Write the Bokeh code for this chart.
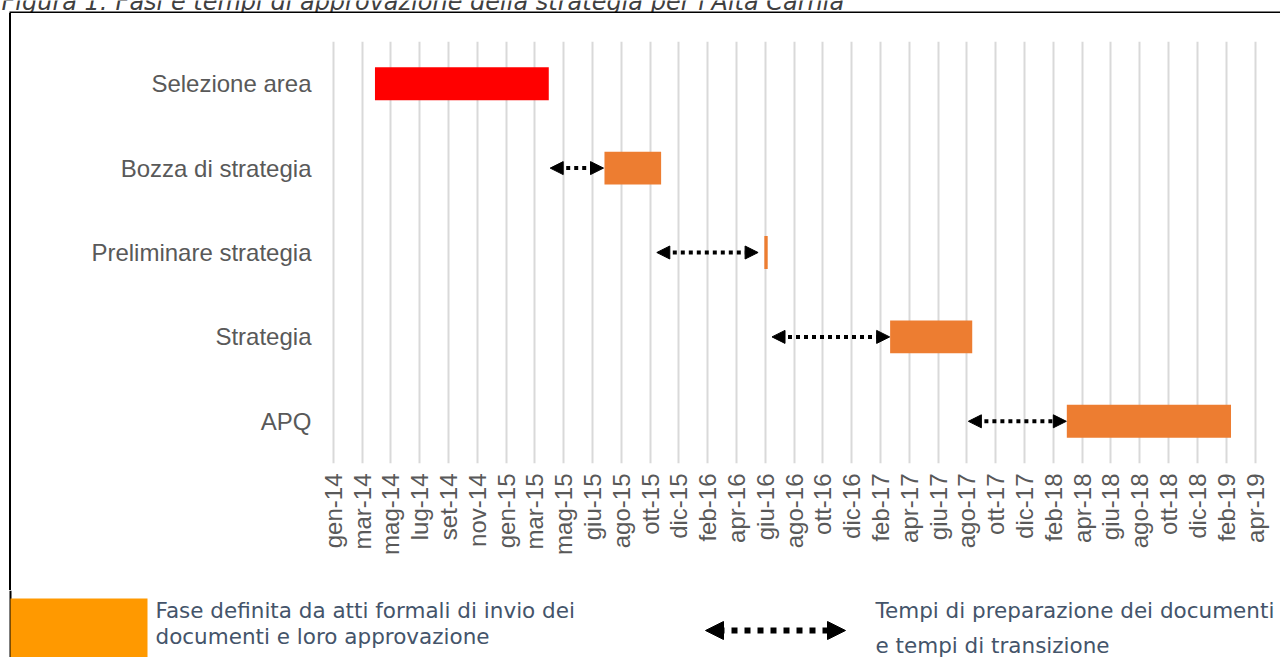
import math
import pandas as pd
from bokeh.plotting import figure
from bokeh.layouts import column, row
from bokeh.models import Range1d, FixedTicker, ColumnDataSource, Arrow, NormalHead, Div
from bokeh.core.properties import value
from bokeh.embed import file_html
from bokeh.resources import INLINE

# ---------------- data ----------------
phases = ["Selezione area", "Bozza di strategia", "Preliminare strategia",
          "Strategia", "APQ"]
phase_start = ["2014-04-03", "2015-07-25", "2016-06-22", "2017-03-11", "2018-03-14"]
phase_end = ["2015-03-31", "2015-11-20", "2016-06-29", "2017-08-29", "2019-02-19"]
phase_colors = ["#FF0000", "#ED7D31", "#ED7D31", "#ED7D31", "#ED7D31"]

transition_phase = ["Bozza di strategia", "Preliminare strategia", "Strategia", "APQ"]
transition_start = ["2015-04-03", "2015-11-11", "2016-07-08", "2017-08-21"]
transition_end = ["2015-07-23", "2016-06-09", "2017-03-10", "2018-03-13"]

tick_labels = ["gen-14", "mar-14", "mag-14", "lug-14", "set-14", "nov-14",
               "gen-15", "mar-15", "mag-15", "giu-15", "ago-15", "ott-15",
               "dic-15", "feb-16", "apr-16", "giu-16", "ago-16", "ott-16",
               "dic-16", "feb-17", "apr-17", "giu-17", "ago-17", "ott-17",
               "dic-17", "feb-18", "apr-18", "giu-18", "ago-18", "ott-18",
               "dic-18", "feb-19", "apr-19"]
tick_first = "2014-01-06"
tick_step_days = 60

title_text = "Figura 1: Fasi e tempi di approvazione della strategia per l'Alta Carnia"
legend_phase_lines = ["Fase definita da atti formali di invio dei",
                      "documenti e loro approvazione"]
legend_transition_lines = ["Tempi di preparazione dei documenti",
                           "e tempi di transizione"]

phase_legend_color = "#FF9900"
text_color_doc = "#44546A"


def ms(dates):
    return [pd.Timestamp(d).value / 1e6 for d in dates]


# ---------------- layout (page pixels) ----------------
W, H = 1280, 657
TOP_H = 13            # title strip (border top at 11-13)
LEG_Y = 590           # legend strip starts here
LEFT_W = 12           # left border strip
FL, FR, FT, FB = 320, 1272, 41, 463   # chart frame edges (page coords)


def strip(width, height, y_top):
    """A figure whose frame covers the whole canvas, in page-pixel data units."""
    f = figure(width=width, height=height, output_backend="svg", toolbar_location=None,
               x_range=Range1d(0, width), y_range=Range1d(y_top + height, y_top),
               min_border=0, min_border_left=0, min_border_right=0,
               min_border_top=0, min_border_bottom=0)
    f.axis.visible = False
    f.grid.visible = False
    f.outline_line_color = None
    f.background_fill_color = "white"
    f.border_fill_color = "white"
    return f


# title strip (only the lower part of the caption is visible, as in the reference)
top = strip(W, TOP_H, 0)
top.text(x=[1], y=[1], text=[title_text], text_font=value("DejaVu Sans"),
         text_font_style="italic", text_font_size="24px", text_color="#404040",
         text_baseline="alphabetic", text_align="left")
top.quad(left=[9], right=[W], top=[11], bottom=[13], fill_color="black", line_color=None)

# left border line next to the chart
CW, CH = W - LEFT_W, LEG_Y - TOP_H
lborder = Div(text="", width=2, height=CH, margin=(0, 1, 0, 9),
              styles={"background-color": "black"})

# ---------------- chart ----------------
tick_ms = [pd.Timestamp(tick_first).value / 1e6 + i * tick_step_days * 86400000.0
           for i in range(len(tick_labels))]
x0 = pd.Timestamp("2013-12-10 13:00").value / 1e6
x1 = pd.Timestamp("2019-05-16 10:00").value / 1e6

n = len(phases)
p = figure(width=CW, height=CH, output_backend="svg", toolbar_location=None,
           x_axis_type="datetime",
           x_range=Range1d(x0, x1), y_range=Range1d(-0.5, n - 0.5),
           min_border_left=FL - LEFT_W, min_border_right=W - FR,
           min_border_top=FT - TOP_H, min_border_bottom=LEG_Y - FB)
p.outline_line_color = None
p.background_fill_color = "white"
p.border_fill_color = "white"

p.xgrid.ticker = FixedTicker(ticks=tick_ms)
p.xgrid.grid_line_color = "#D9D9D9"
p.xgrid.grid_line_width = 2
p.ygrid.grid_line_color = None

p.xaxis.ticker = FixedTicker(ticks=tick_ms)
p.xaxis.major_label_overrides = {t: lab for t, lab in zip(tick_ms, tick_labels)}
p.xaxis.major_label_orientation = math.pi / 2
p.xaxis.axis_line_color = None
p.xaxis.major_tick_line_color = None
p.xaxis.minor_tick_line_color = None
p.xaxis.major_tick_out = 0
p.xaxis.major_label_standoff = 10
p.xaxis.major_label_text_font = "Liberation Sans"
p.xaxis.major_label_text_font_size = "24px"
p.xaxis.major_label_text_color = "#595959"

y_pos = [n - 1 - i for i in range(n)]
p.yaxis.ticker = FixedTicker(ticks=y_pos)
p.yaxis.major_label_overrides = {y: lab for y, lab in zip(y_pos, phases)}
p.yaxis.axis_line_color = None
p.yaxis.major_tick_line_color = None
p.yaxis.minor_tick_line_color = None
p.yaxis.major_tick_out = 0
p.yaxis.major_label_standoff = 9
p.yaxis.major_label_text_font = "Liberation Sans"
p.yaxis.major_label_text_font_size = "24px"
p.yaxis.major_label_text_color = "#595959"

bar_src = ColumnDataSource(dict(y=y_pos, left=ms(phase_start), right=ms(phase_end),
                                color=phase_colors))
p.hbar(y="y", left="left", right="right", height=0.39, fill_color="color",
       line_color=None, source=bar_src)

tr_y = [y_pos[phases.index(ph)] for ph in transition_phase]
tr_src = ColumnDataSource(dict(x0=ms(transition_start), x1=ms(transition_end), y=tr_y))
p.add_layout(Arrow(x_start="x0", y_start="y", x_end="x1", y_end="y", source=tr_src,
                   line_color="black", line_width=4, line_dash="4 4",
                   start=NormalHead(size=13, fill_color="black", line_color="black", line_width=1),
                   end=NormalHead(size=13, fill_color="black", line_color="black", line_width=1)))

# ---------------- legend strip ----------------
leg = strip(W, H - LEG_Y, LEG_Y)
leg.quad(left=[9], right=[11], top=[LEG_Y], bottom=[H], fill_color="black", line_color=None)
leg.quad(left=[10], right=[147], top=[598], bottom=[H], fill_color=phase_legend_color,
         line_color=None)
leg.text(x=[155, 155], y=[610, 636], text=legend_phase_lines,
         text_font=value("DejaVu Sans"), text_font_size="21.5px", text_color=text_color_doc,
         text_baseline="middle", text_align="left")
leg.add_layout(Arrow(x_start=705, y_start=630, x_end=845, y_end=630,
                     line_color="black", line_width=6, line_dash="6 7",
                     start=NormalHead(size=18, fill_color="black", line_color="black", line_width=1),
                     end=NormalHead(size=18, fill_color="black", line_color="black", line_width=1)))
leg.text(x=[875, 875], y=[610, 645], text=legend_transition_lines,
         text_font=value("DejaVu Sans"), text_font_size="21.5px", text_color=text_color_doc,
         text_baseline="middle", text_align="left")

layout = column(top, row(lborder, p, spacing=0), leg, spacing=0)
open("out.html", "w").write(file_html(layout, INLINE))
